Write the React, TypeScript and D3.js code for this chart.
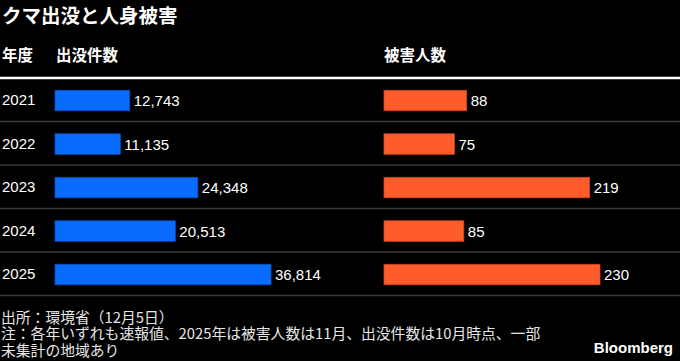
import React from "react";
import * as d3 from "d3";

const years = ["2021", "2022", "2023", "2024", "2025"];
const sightings = [12743, 11135, 24348, 20513, 36814];
const injuries = [88, 75, 219, 85, 230];

const title = "クマ出没と人身被害";
const headerYear = "年度";
const headerSightings = "出没件数";
const headerInjuries = "被害人数";
const footnotes = [
  "出所：環境省（12月5日）",
  "注：各年いずれも速報値、2025年は被害人数は11月、出没件数は10月時点、一部",
  "未集計の地域あり",
];

const W = 680;
const H = 361;
const CJK = "'Noto Sans CJK JP', 'Noto Sans', sans-serif";
const LAT = "'Liberation Sans', Arial, sans-serif";

export default function App() {
  const y = d3.scaleBand<string>().domain(years).range([78, 295.5]).paddingInner(0).paddingOuter(0);
  const barH = 20.5;
  const xS = d3.scaleLinear().domain([0, d3.max(sightings)!]).range([0, 216]);
  const xI = d3.scaleLinear().domain([0, d3.max(injuries)!]).range([0, 216]);
  const fmt = d3.format(",");
  const x0S = 55;
  const x0I = 384;

  return (
    <div style={{ position: "fixed", left: 0, top: 0, width: W, height: H, background: "#000" }}>
      <svg width={W} height={H} style={{ display: "block" }}>
        <rect x={0} y={0} width={W} height={H} fill="#000" />
        <text x={2} y={23} fill="#fff" fontFamily={CJK} fontWeight={700} fontSize={19.5}>
          {title}
        </text>
        <text x={2} y={61} fill="#fff" fontFamily={CJK} fontWeight={700} fontSize={15.5}>
          {headerYear}
        </text>
        <text x={56} y={61} fill="#fff" fontFamily={CJK} fontWeight={700} fontSize={15.5}>
          {headerSightings}
        </text>
        <text x={x0I} y={61} fill="#fff" fontFamily={CJK} fontWeight={700} fontSize={15.5}>
          {headerInjuries}
        </text>
        {years.map((yr, i) => {
          const top = y(yr)!;
          const bottom = top + y.bandwidth();
          const c = top + y.bandwidth() / 2 + 0.8;
          return (
            <g key={yr}>
              <line x1={0} x2={W} y1={bottom} y2={bottom} stroke="#3a3a3a" strokeWidth={1.5} />
              <text x={2} y={c + 4.5} fill="#fff" fontFamily={LAT} fontSize={15}>
                {yr}
              </text>
              <rect
                x={x0S}
                y={c - barH / 2}
                width={xS(sightings[i])}
                height={barH}
                fill="#0a6cff"
                stroke="#0a4fb8"
                strokeWidth={0.8}
              />
              <text x={x0S + xS(sightings[i]) + 4} y={c + 5.5} fill="#fff" fontFamily={LAT} fontSize={15}>
                {fmt(sightings[i])}
              </text>
              <rect
                x={x0I}
                y={c - barH / 2}
                width={xI(injuries[i])}
                height={barH}
                fill="#ff5c2b"
                stroke="#c9461f"
                strokeWidth={0.8}
              />
              <text x={x0I + xI(injuries[i]) + 4} y={c + 5.5} fill="#fff" fontFamily={LAT} fontSize={15}>
                {fmt(injuries[i])}
              </text>
            </g>
          );
        })}
        <line x1={0} x2={W} y1={78} y2={78} stroke="#fff" strokeWidth={2.5} />
        <text fill="#e6e6e6" fontFamily={CJK} fontSize={14.8}>
          {footnotes.map((t, i) => (
            <tspan key={i} x={1} y={322.5 + i * 16.8}>
              {t}
            </tspan>
          ))}
        </text>
        <text x={673} y={353} textAnchor="end" fill="#fff" fontFamily={LAT} fontWeight={700} fontSize={15}>
          Bloomberg
        </text>
      </svg>
    </div>
  );
}
